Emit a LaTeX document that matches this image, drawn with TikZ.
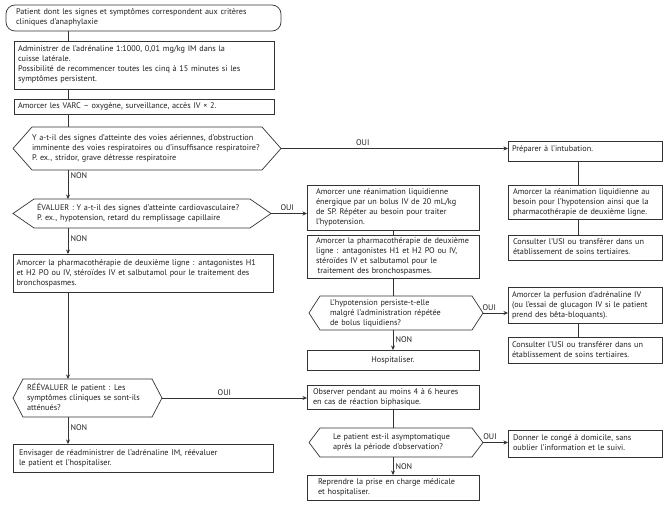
\documentclass[tikz,border=0pt]{standalone}
\usepackage{fontspec}
\setmainfont{PT Sans}
\usetikzlibrary{arrows.meta,shadows}
\definecolor{ln}{HTML}{333333}
\definecolor{tc}{HTML}{231F20}
\newcommand\ff{\fontsize{8.2}{10}\selectfont}
\newcommand\tx[2]{\hspace*{#1pt}\begin{tabular}{@{}l@{}}#2\end{tabular}}
\newcommand\hexa[2]{\draw[cn] (#1.west) -- ([xshift=#2pt]#1.north west) -- ([xshift=-#2pt]#1.north east) -- (#1.east) -- ([xshift=-#2pt]#1.south east) -- ([xshift=#2pt]#1.south west) -- cycle;}
\tikzset{
  every node/.style={outer sep=0pt, font=\ff, text=tc},
  sz/.style 2 args={minimum width=#1pt, text width=#1pt, minimum height=#2pt},
  bx/.style={draw=ln, fill=white, line width=0.7pt, inner sep=0pt, anchor=north west, align=left,
    drop shadow={shadow xshift=0.8pt, shadow yshift=-0.8pt, opacity=1, fill=ln}},
  hx/.style={inner sep=0pt, anchor=north west, align=left},
  cn/.style={draw=ln, line width=0.7pt},
  ar/.style={cn, -{Stealth[length=4.5pt,width=4pt]}},
  lb/.style={inner sep=0pt, font=\ff},
}
\begin{document}
\begin{tikzpicture}[x=1pt, y=-1pt]
\useasboundingbox (0,0) rectangle (668,513);
% left column
\node[hx, draw=ln, line width=0.7pt, rounded corners=9pt, sz={275}{26}] (start) at (6,5)
  {\tx{10}{Patient dont les signes et symptômes correspondent aux critères\\cliniques d’anaphylaxie}};
\node[bx, sz={260}{48}] (adren) at (14,41)
  {\tx{4}{Administrer de l’adrénaline 1:1000, 0,01 mg/kg IM dans la\\cuisse latérale.\\Possibilité de recommencer toutes les cinq à 15 minutes si les\\symptômes persistent.}};
\node[bx, sz={260}{15}] (varc) at (14,99)
  {\tx{4}{Amorcer les VARC – oxygène, surveillance, accès IV × 2.}};
\node[hx, sz={268}{43}] (dec1) at (13,127)
  {\tx{19}{Y a-t-il des signes d’atteinte des voies aériennes, d’obstruction\\imminente des voies respiratoires ou d’insuffisance respiratoire?\\P. ex., stridor, grave détresse respiratoire}};
\hexa{dec1}{19}
\node[hx, sz={258}{29}] (dec2) at (13,199)
  {\tx{24}{ÉVALUER : Y a-t-il des signes d’atteinte cardiovasculaire?\\P. ex., hypotension, retard du remplissage capillaire}};
\hexa{dec2}{21}
\node[bx, sz={260}{38}] (pharL) at (13,254)
  {\tx{3.5}{Amorcer la pharmacothérapie de deuxième ligne : antagonistes H1\\et H2 PO ou IV, stéroïdes IV et salbutamol pour le traitement des\\bronchospasmes.}};
\node[hx, sz={149}{38}] (reeval) at (13,379)
  {\tx{14}{RÉÉVALUER le patient : Les\\symptômes cliniques se sont-ils\\atténués?}};
\hexa{reeval}{10}
\node[bx, sz={260}{28}] (envis) at (13,444)
  {\tx{6}{Envisager de réadministrer de l’adrénaline IM, réévaluer\\le patient et l’hospitaliser.}};
% middle column
\node[bx, sz={172}{45}] (boxA) at (307,185)
  {\tx{9}{Amorcer une réanimation liquidienne\\énergique par un bolus IV de 20 mL/kg\\de SP. Répéter au besoin pour traiter\\l’hypotension.}};
\node[bx, sz={172}{43}] (boxB) at (307,235)
  {\tx{9}{Amorcer la pharmacothérapie de deuxième\\ligne : antagonistes H1 et H2 PO ou IV,\\stéroïdes IV et salbutamol pour le\\\hspace*{1.5pt}traitement des bronchospasmes.}};
\node[hx, sz={174}{34}] (dec3) at (309,296)
  {\tx{21}{L’hypotension persiste-t-elle\\malgré l’administration répétée\\de bolus liquidiens?}};
\hexa{dec3}{11}
\node[bx, sz={172}{20}, align=center] (hosp) at (307,350) {Hospitaliser.};
\node[bx, sz={172}{24}] (obs) at (307,385)
  {\tx{6}{Observer pendant au moins 4 à 6 heures\\en cas de réaction biphasique.}};
\node[hx, sz={174}{29}] (dec4) at (309,428)
  {\tx{24}{Le patient est-il asymptomatique\\après la période d’observation?}};
\hexa{dec4}{11}
\node[bx, sz={172}{25}] (repr) at (307,475)
  {\tx{11}{Reprendre la prise en charge médicale\\et hospitaliser.}};
% right column
\node[bx, sz={154}{20}] (prep) at (508,141)
  {\raisebox{7pt}{\tx{4}{Préparer à l’intubation.}}};
\node[bx, sz={154}{34}] (prep2) at (508,185)
  {\tx{5}{Amorcer la réanimation liquidienne au\\besoin pour l’hypotension ainsi que la\\pharmacothérapie de deuxième ligne.}};
\node[bx, sz={154}{25}] (cons1) at (508,235)
  {\tx{5}{Consulter l’USI ou transférer dans un\\établissement de soins tertiaires.}};
\node[bx, sz={154}{36}] (perf) at (508,287)
  {\tx{4}{Amorcer la perfusion d’adrénaline IV\\(ou l’essai de glucagon IV si le patient\\prend des bêta-bloquants).}};
\node[bx, sz={154}{26}] (cons2) at (508,337)
  {\tx{4}{Consulter l’USI ou transférer dans un\\établissement de soins tertiaires.}};
\node[bx, sz={154}{27}] (donner) at (508,430)
  {\tx{5}{Donner le congé à domicile, sans\\oublier l’information et le suivi.}};
% column lines
\coordinate (cL) at (68,0);
\coordinate (cM) at (393,0);
\coordinate (cR) at (578,0);
\draw[cn] (start.south -| cL) -- (adren.north -| cL);
\draw[cn] (adren.south -| cL) -- (varc.north -| cL);
\draw[cn] (varc.south -| cL) -- (dec1.north -| cL);
\draw[ar] (dec1.south -| cL) -- node[lb, pos=0.2, anchor=west, xshift=2.5pt] {NON} (dec2.north -| cL);
\draw[ar] (dec2.south -| cL) -- node[lb, pos=0.42, anchor=west, xshift=2.5pt] {NON} (pharL.north -| cL);
\draw[ar] (pharL.south -| cL) -- (reeval.north -| cL);
\draw[ar] (reeval.south -| cL) -- node[lb, pos=0.4, anchor=west, xshift=2.5pt] {NON} (envis.north -| cL);
\draw[cn] (boxA.south -| cM) -- (boxB.north -| cM);
\draw[cn] (boxB.south -| cM) -- (dec3.north -| cM);
\draw[ar] (dec3.south -| cM) -- node[lb, pos=0.5, anchor=west, xshift=2.5pt] {NON} (hosp.north -| cM);
\draw[cn] (obs.south -| cM) -- (dec4.north -| cM);
\draw[ar] (dec4.south -| cM) -- node[lb, pos=0.55, anchor=west, xshift=2.5pt] {NON} (repr.north -| cM);
\draw[cn] (prep.south -| cR) -- (prep2.north -| cR);
\draw[cn] (prep2.south -| cR) -- (cons1.north -| cR);
\draw[cn] (perf.south -| cR) -- (cons2.north -| cR);
% OUI branches
\draw[ar] (dec1.east) -- node[lb, pos=0.36, anchor=south, yshift=2.5pt] {OUI} (dec1.east -| prep.west);
\draw[ar] (dec2.east) -- node[lb, pos=0.45, anchor=south, yshift=2.5pt] {OUI} (dec2.east -| boxA.west);
\draw[ar] (reeval.east) -- node[lb, pos=0.43, anchor=south, yshift=2.5pt] {OUI} (reeval.east -| obs.west);
\draw[ar] (dec3.east) -- node[lb, pos=0.25, anchor=south, yshift=2.5pt] {OUI} (dec3.east -| perf.west);
\draw[ar] (dec4.east) -- node[lb, pos=0.28, anchor=south, yshift=2.5pt] {OUI} (dec4.east -| donner.west);
\end{tikzpicture}
\end{document}
